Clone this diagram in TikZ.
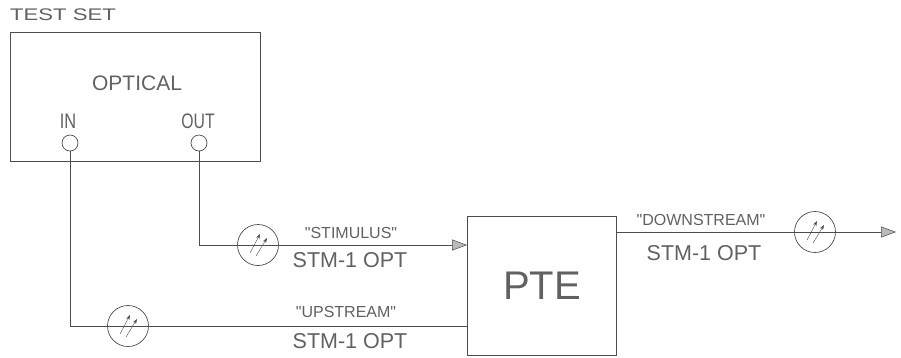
\documentclass[tikz,border=0pt]{standalone}
\usepackage{fontspec}
\usepackage{graphicx}
\newfontfamily\lbfont{Liberation Sans}
\usetikzlibrary{arrows.meta}
\definecolor{ink}{gray}{0.3}
\definecolor{tink}{gray}{0.38}
\newcommand\fibresym[2]{%
  \node[fibre] (#1) at (#2) {};
  \draw[ink,-{Stealth[length=5pt,width=3.5pt]}] ([shift={(-8,8)}]#1.center) -- ([shift={(2,-11)}]#1.center);
  \draw[ink,-{Stealth[length=5pt,width=3.5pt]}] ([shift={(-2,11)}]#1.center) -- ([shift={(9,-7)}]#1.center);
}
\tikzset{
  box/.style={draw=ink, line width=0.8pt},
  port/.style={draw=ink, circle, inner sep=0pt, minimum size=16pt, line width=0.7pt},
  fibre/.style={draw=ink, circle, inner sep=0pt, minimum size=41pt, line width=0.7pt},
  wire/.style={draw=ink, line width=0.8pt},
  tip/.style={-{Triangle[length=15pt,width=11pt,fill=gray!55,color=ink,line width=0.5pt]}},
  lbl/.style={text=tink, inner sep=0pt, font=\lbfont\fontsize{16}{18}\selectfont},
  big/.style={text=tink, inner sep=0pt, font=\lbfont\fontsize{21}{24}\selectfont},
  mid/.style={text=tink, inner sep=0pt, font=\lbfont\fontsize{21.5}{24}\selectfont},
}
\begin{document}
\begin{tikzpicture}[x=1pt,y=-1pt]
\useasboundingbox (0,0) rectangle (901,357);
% test set
\node[text=tink, inner sep=0pt, font=\lbfont\fontsize{16.8}{18}\selectfont] (tslabel) at (63,15) {\scalebox{1.32}[1]{TEST SET}};
\node[box, minimum width=250pt, minimum height=129pt, anchor=north west, inner sep=0pt] (ts) at (10,32) {};
\node[big] (optical) at (137,83) {OPTICAL};
\node[big] (inl) at (68,121) {\scalebox{0.78}[1]{IN}};
\node[big] (outl) at (198,121) {\scalebox{0.75}[1]{OUT}};
\node[port] (in) at (70,143) {};
\node[port] (out) at (199,143) {};
% PTE
\node[box, minimum width=149pt, minimum height=139pt, anchor=north west, inner sep=0pt] (pte) at (467,216) {};
\node[text=tink, inner sep=0pt, font=\lbfont\fontsize{40}{44}\selectfont] (ptel) at (pte.center) {PTE};
% coordinates
\coordinate (sEnd) at (467,245);
\coordinate (uEnd) at (467,326);
\coordinate (dStart) at (616,232);
\coordinate (dEnd) at (896,232);
% wires
\draw[wire, tip] (out.south) |- (sEnd);
\draw[wire] (in.south) |- (uEnd);
\draw[wire, tip] (dStart) -- (dEnd);
% fibre symbols
\fibresym{fs}{258,245}
\fibresym{fu}{128,326}
\fibresym{fd}{815,232}
% labels
\node[lbl] (stim) at (351,233) {"STIMULUS"};
\node[mid] (stim2) at (350,260) {STM-1 OPT};
\node[lbl] (up) at (346,312) {"UPSTREAM"};
\node[mid] (up2) at (350,341) {STM-1 OPT};
\node[lbl] (down) at (701,220) {"DOWNSTREAM"};
\node[mid] (down2) at (704,253) {STM-1 OPT};
\end{tikzpicture}
\end{document}
